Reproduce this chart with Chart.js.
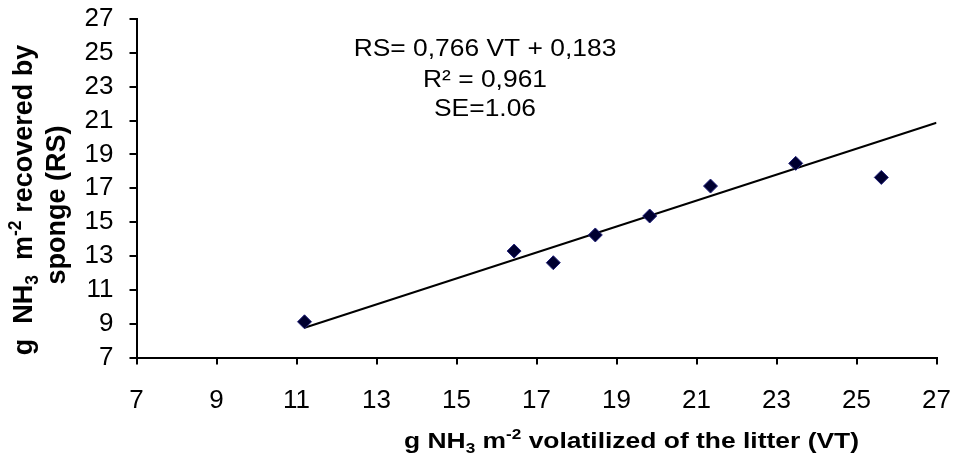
<!DOCTYPE html>
<html>
<head>
<meta charset="utf-8">
<script src="https://cdn.jsdelivr.net/npm/chart.js@4.4.1/dist/chart.umd.min.js"></script>
<style>
  html, body { margin: 0; padding: 0; background: #fff; overflow: hidden; }
  #wrap { width: 954px; height: 456px; position: relative; }
  #chartCanvas { display: block; }
</style>
</head>
<body>
<div id="wrap"><canvas id="chartCanvas"></canvas></div>
<script>
// values
const vtValues = [11.2, 16.44, 17.42, 18.47, 19.83, 21.35, 23.48, 25.62];
const rsValues = [9.11, 13.29, 12.60, 14.24, 15.36, 17.13, 18.47, 17.64];

// fitted line, as drawn (end points)
const trendVT = [11.2, 27];
const trendRS = [8.76, 20.87];

// axis ticks
const axisMin = 7;
const axisMax = 27;
const axisStep = 2;

// texts
const equationLines = ['RS= 0,766 VT + 0,183', 'R\u00b2 = 0,961', 'SE=1.06'];
const xTitleParts = [['g NH', ''], ['3', 'sub'], [' m', ''], ['-2', 'sup'], [' volatilized of the litter (VT)', '']];
const yTitleLine1 = [['g  NH', ''], ['3', 'sub'], ['  m', ''], ['-2', 'sup'], [' recovered by', '']];
const yTitleLine2 = [['sponge (RS)', '']];

const FONT = '"Liberation Sans", Arial, Helvetica, sans-serif';

function partFont(size, bold, kind) {
    const s = kind ? size * 0.65 : size;
    return (bold ? 'bold ' : '') + s + 'px ' + FONT;
}

function measureRich(ctx, parts, size, bold) {
    let w = 0;
    parts.forEach(([t, kind]) => {
        ctx.font = partFont(size, bold, kind);
        w += ctx.measureText(t).width;
    });
    return w;
}

// draws text with sub/superscripts, baseline at y
function drawRich(ctx, parts, opts) {
    const size = opts.size, bold = opts.bold;
    const natural = measureRich(ctx, parts, size, bold);
    const sx = opts.width ? opts.width / natural : (opts.sx || 1);
    ctx.save();
    ctx.translate(opts.x, opts.y);
    if (opts.rotate) ctx.rotate(opts.rotate);
    ctx.scale(sx, 1);
    let x = opts.align === 'center' ? -natural / 2 : 0;
    ctx.fillStyle = '#000';
    ctx.textBaseline = 'alphabetic';
    ctx.textAlign = 'left';
    parts.forEach(([t, kind]) => {
        ctx.font = partFont(size, bold, kind);
        let dy = 0;
        if (kind === 'sub') dy = size * 0.22;
        if (kind === 'sup') dy = -size * 0.42;
        ctx.fillText(t, x, dy);
        x += ctx.measureText(t).width;
    });
    ctx.restore();
}

const textPlugin = {
    id: 'chartTexts',
    afterDraw(chart) {
        const ctx = chart.ctx;
        // regression equation block
        const baselines = [56, 87, 116];
        equationLines.forEach((line, i) => {
            drawRich(ctx, [[line, '']], { size: 24, bold: false, x: 485, y: baselines[i], align: 'center', sx: 1.1 });
        });
        // x axis title
        drawRich(ctx, xTitleParts, { size: 22, bold: true, x: 404, y: 448, width: 455 });
        // y axis title (two lines, rotated)
        drawRich(ctx, yTitleLine1, { size: 27, bold: true, x: 32, y: 200, rotate: -Math.PI / 2, align: 'center' });
        drawRich(ctx, yTitleLine2, { size: 27, bold: true, x: 65, y: 205, rotate: -Math.PI / 2, align: 'center' });
    }
};

const scatterPoints = vtValues.map((v, i) => ({ x: v, y: rsValues[i] }));
const trendPoints = trendVT.map((v, i) => ({ x: v, y: trendRS[i] }));

function axisOptions(isX) {
    return {
        type: 'linear',
        min: axisMin,
        max: axisMax,
        ticks: {
            stepSize: axisStep,
            autoSkip: false,
            color: '#000',
            font: { family: FONT, size: 26 },
            padding: isX ? 21 : 16,
        },
        grid: {
            drawOnChartArea: false,
            drawTicks: true,
            tickLength: 7,
            color: '#000',
            lineWidth: 2,
        },
        border: { display: true, color: '#000', width: 2 },
        afterFit(scale) {
            // fixed axis sizes, no extra room for overhanging labels
            if (isX) {
                scale.height = 98.5;
                scale.paddingLeft = 0;
                scale.paddingRight = 0;
            } else {
                scale.width = 136.5;
                scale.paddingTop = 0;
                scale.paddingBottom = 0;
            }
        },
    };
}

const canvas = document.getElementById('chartCanvas');
const ctx = canvas.getContext('2d');

new Chart(ctx, {
    type: 'scatter',
    data: {
        datasets: [
            {
                label: 'trend',
                type: 'line',
                data: trendPoints,
                borderColor: '#000',
                borderWidth: 2,
                pointRadius: 0,
                fill: false,
                order: 2,
            },
            {
                label: 'RS',
                data: scatterPoints,
                pointStyle: 'rectRot',
                pointRadius: 7,
                backgroundColor: '#000030',
                borderColor: '#20207a',
                borderWidth: 1,
                order: 1,
            },
        ],
    },
    options: {
        responsive: true,
        maintainAspectRatio: false,
        animation: false,
        layout: { padding: { top: 19, right: 17.5, left: 0, bottom: 0 } },
        plugins: {
            legend: { display: false },
            tooltip: { enabled: false },
        },
        scales: {
            x: axisOptions(true),
            y: axisOptions(false),
        },
    },
    plugins: [textPlugin],
});
</script>
</body>
</html>
